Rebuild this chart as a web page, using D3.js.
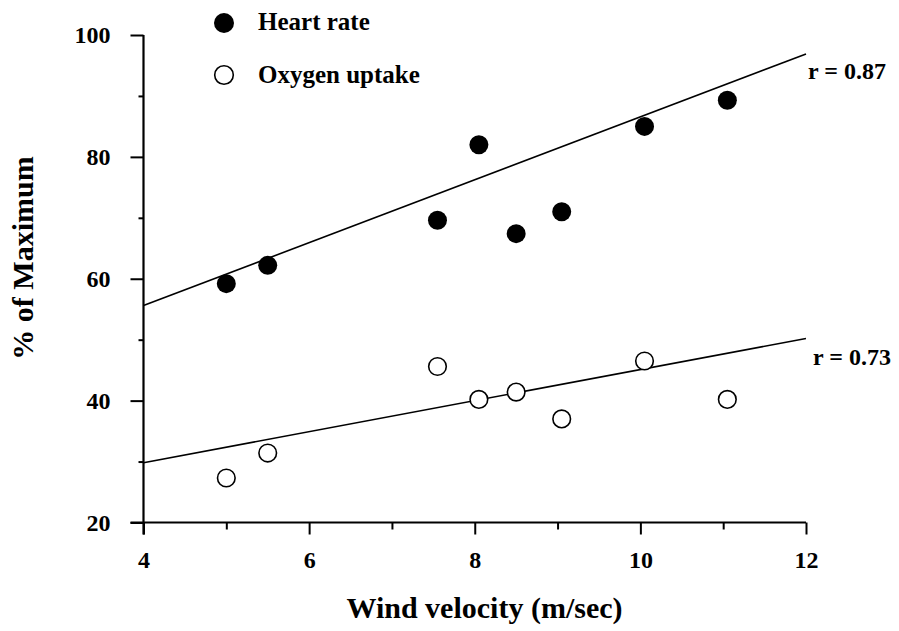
<!DOCTYPE html>
<html>
<head>
<meta charset="utf-8">
<script src="https://cdn.jsdelivr.net/npm/d3@7"></script>
<style>
  html, body { margin: 0; padding: 0; background: #fff; }
  svg { display: block; }
  text { font-family: "Liberation Serif", "Times New Roman", serif; font-weight: bold; fill: #000; }
</style>
</head>
<body>
<svg id="chart" width="899" height="631"></svg>
<script>
// ---- data ----
const windVelocity = [5.0, 5.5, 7.55, 8.05, 8.5, 9.05, 10.05, 11.05];
const heartRate    = [59.2, 62.2, 69.6, 82.0, 67.4, 71.0, 85.0, 89.3];
const oxygenUptake = [27.3, 31.4, 45.6, 40.2, 41.4, 37.0, 46.5, 40.2];
const fitX   = [4, 12];
const hrFit  = [55.6, 96.9];
const o2Fit  = [29.8, 50.2];
const xMajorTicks = [4, 6, 8, 10, 12];
const xMinorTicks = [5, 7, 9, 11];
const yMajorTicks = [20, 40, 60, 80, 100];
const yMinorTicks = [30, 50, 70, 90];
const seriesNames = ["Heart rate", "Oxygen uptake"];
const rLabels = ["r = 0.87", "r = 0.73"];
const xTitle = "Wind velocity (m/sec)";
const yTitle = "% of Maximum";

// ---- layout ----
const svg = d3.select("#chart");
const x = d3.scaleLinear().domain([4, 12]).range([143.5, 806]);
const y = d3.scaleLinear().domain([20, 100]).range([522.5, 35]);

// axes
const gx = svg.append("g").attr("transform", `translate(0,${y(20)})`);
gx.call(d3.axisBottom(x).tickValues(xMajorTicks).tickSize(12).tickSizeOuter(0).tickPadding(16));
gx.append("g").call(d3.axisBottom(x).tickValues(xMinorTicks).tickSize(7).tickFormat(""));
gx.selectAll(".domain").remove();
gx.selectAll("line").attr("stroke", "#000").attr("stroke-width", 2);
gx.selectAll("text").attr("font-family", null).attr("font-size", null).style("font-size", "24px");
gx.attr("font-family", null).attr("font-size", null);

const gy = svg.append("g").attr("transform", `translate(${x(4)},0)`);
gy.call(d3.axisLeft(y).tickValues(yMajorTicks).tickSize(13).tickSizeOuter(0).tickPadding(20));
gy.append("g").call(d3.axisLeft(y).tickValues(yMinorTicks).tickSize(5).tickFormat(""));
gy.selectAll(".domain").remove();
gy.selectAll("line").attr("stroke", "#000").attr("stroke-width", 2);
gy.selectAll("text").attr("font-family", null).attr("font-size", null).style("font-size", "24px");
gy.attr("font-family", null).attr("font-size", null);

// axis lines
svg.append("line")
  .attr("x1", x(4) - 13).attr("x2", x(12))
  .attr("y1", y(20)).attr("y2", y(20))
  .attr("stroke", "#000").attr("stroke-width", 2.2);
svg.append("line")
  .attr("x1", x(4)).attr("x2", x(4))
  .attr("y1", y(100)).attr("y2", y(20) + 12)
  .attr("stroke", "#000").attr("stroke-width", 2.2);

// fit lines
const line = d3.line().x(d => x(d[0])).y(d => y(d[1]));
svg.append("path").datum(fitX.map((v, i) => [v, hrFit[i]]))
  .attr("d", line).attr("fill", "none").attr("stroke", "#000").attr("stroke-width", 1.6);
svg.append("path").datum(fitX.map((v, i) => [v, o2Fit[i]]))
  .attr("d", line).attr("fill", "none").attr("stroke", "#000").attr("stroke-width", 1.6);

// points
svg.append("g").selectAll("circle").data(windVelocity.map((v, i) => [v, heartRate[i]]))
  .join("circle").attr("cx", d => x(d[0])).attr("cy", d => y(d[1])).attr("r", 9.5)
  .attr("fill", "#000");
svg.append("g").selectAll("circle").data(windVelocity.map((v, i) => [v, oxygenUptake[i]]))
  .join("circle").attr("cx", d => x(d[0])).attr("cy", d => y(d[1])).attr("r", 8.8)
  .attr("fill", "#fff").attr("stroke", "#000").attr("stroke-width", 1.6);

// r labels
svg.append("text").attr("x", 808).attr("y", 79).style("font-size", "24px").text(rLabels[0]);
svg.append("text").attr("x", 813).attr("y", 365).style("font-size", "24px").text(rLabels[1]);

// legend
svg.append("circle").attr("cx", 224).attr("cy", 23).attr("r", 10).attr("fill", "#000");
svg.append("circle").attr("cx", 224).attr("cy", 75).attr("r", 9.3)
  .attr("fill", "#fff").attr("stroke", "#000").attr("stroke-width", 1.6);
svg.append("text").attr("x", 258).attr("y", 30).style("font-size", "25px").text(seriesNames[0]);
svg.append("text").attr("x", 258).attr("y", 83).style("font-size", "25px").text(seriesNames[1]);

// axis titles
svg.append("text").attr("x", 484.5).attr("y", 618).attr("text-anchor", "middle")
  .style("font-size", "30px").text(xTitle);
svg.append("text").attr("transform", "translate(33,258) rotate(-90)").attr("text-anchor", "middle")
  .style("font-size", "30px").text(yTitle);
</script>
</body>
</html>
